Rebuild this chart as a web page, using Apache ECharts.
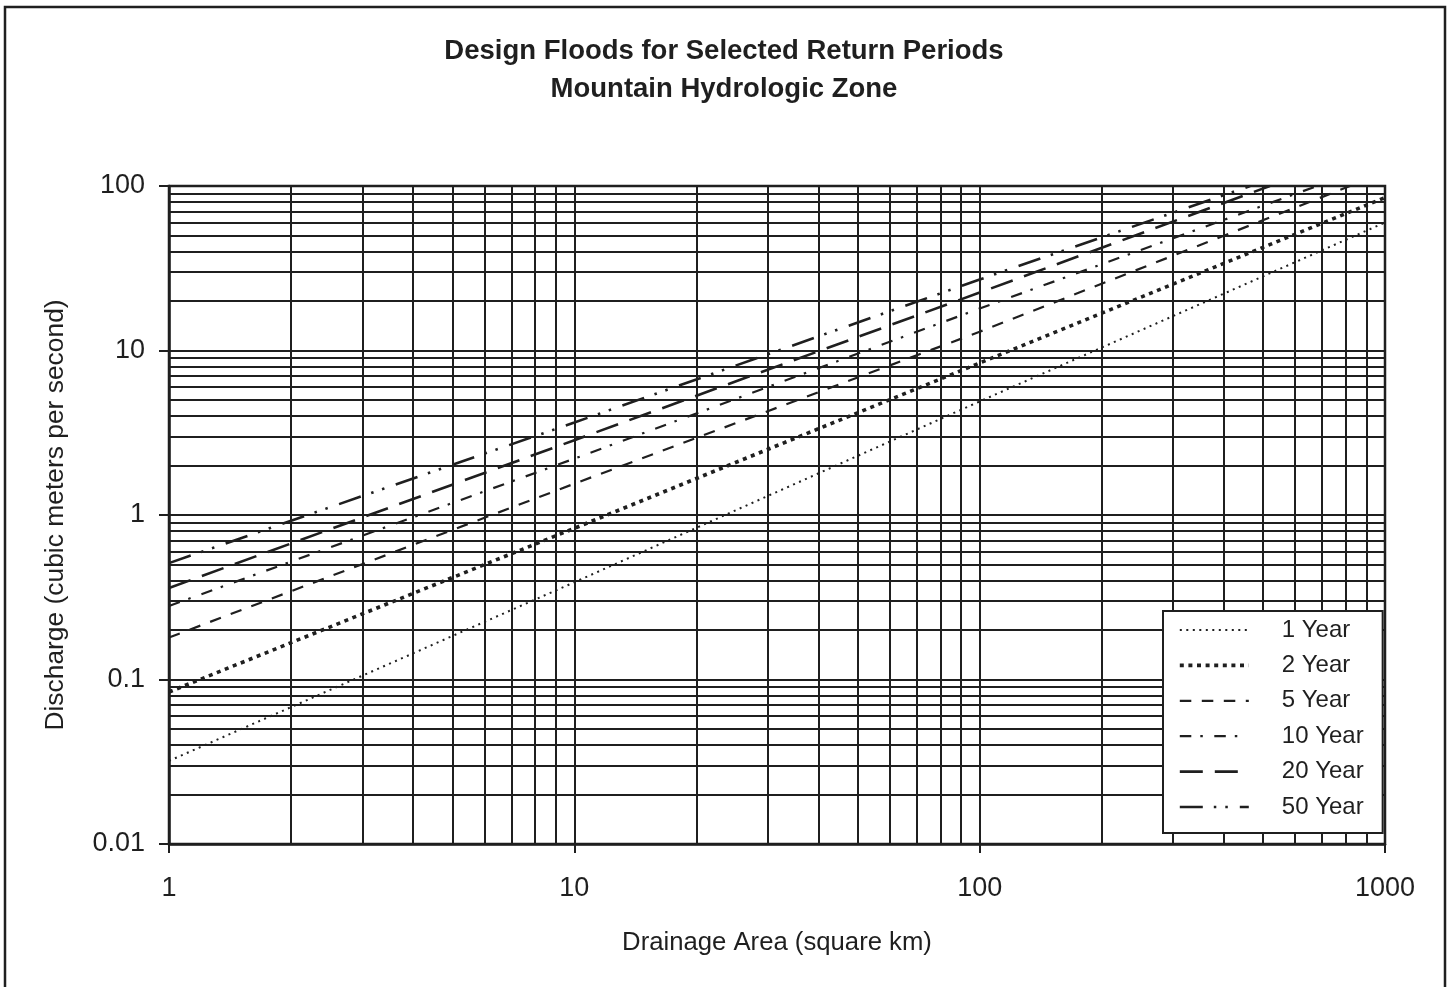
<!DOCTYPE html>
<html>
<head>
<meta charset="utf-8">
<script src="https://cdn.jsdelivr.net/npm/echarts@6/dist/echarts.min.js"></script>
<style>
html,body{margin:0;padding:0;background:#fff;}
#chart{width:1448px;height:987px;}
</style>
</head>
<body>
<div id="chart"></div>
<script>
// ---- data ----
const titleText = 'Design Floods for Selected Return Periods\nMountain Hydrologic Zone';
const xAxisTitle = 'Drainage Area (square km)';
const yAxisTitle = 'Discharge (cubic meters per second)';
const seriesNames = ['1 Year', '2 Year', '5 Year', '10 Year', '20 Year', '50 Year'];

// [drainage area (km²), discharge (m³/s)]
const year1  = [[1, 0.032], [10, 0.39], [100, 4.9], [1000, 60]];
const year2  = [[1, 0.084], [10, 0.83], [100, 8.4], [1000, 85]];
const year5  = [[1, 0.18],  [10, 1.55], [100, 13],  [820, 100]];
const year10 = [[1, 0.28],  [10, 2.2],  [100, 18],  [680, 100]];
const year20 = [[1, 0.36],  [10, 2.85], [100, 22.5],[520, 100]];
const year50 = [[1, 0.51],  [10, 3.65], [100, 27],  [465, 100]];

// log-paper minor grid values
const xMinorGrid = [2,3,4,5,6,7,8,9, 20,30,40,50,60,70,80,90, 200,300,400,500,600,700,800,900];
const yMinorGrid = [0.02,0.03,0.04,0.05,0.06,0.07,0.08,0.09,
                    0.2,0.3,0.4,0.5,0.6,0.7,0.8,0.9,
                    2,3,4,5,6,7,8,9,
                    20,30,40,50,60,70,80,90];

// ---- styling ----
const INK = '#1f1f1f';
const FONT = '"Liberation Sans", Arial, sans-serif';
const dashStyles = [
  { width: 2,   type: [2, 4.5] },
  { width: 3.6, type: [4, 4.6] },
  { width: 2.2, type: [11.5, 10.5] },
  { width: 2.2, type: [11.5, 9, 2.5, 11.5] },
  { width: 2.6, type: [23, 12] },
  { width: 2.6, type: [23, 11, 2.5, 9, 2.5, 12] }
];
const allData = [year1, year2, year5, year10, year20, year50];

const series = allData.map((d, i) => ({
  name: seriesNames[i],
  type: 'line',
  data: d,
  symbol: 'none',
  smooth: false,
  clip: true,
  z: 5,
  lineStyle: { color: INK, width: dashStyles[i].width, type: dashStyles[i].type, cap: 'butt' },
  itemStyle: { color: INK },
  emphasis: { disabled: true }
}));

// minor log grid as mark lines on the first series
series[0].markLine = {
  silent: true,
  symbol: 'none',
  animation: false,
  label: { show: false },
  emphasis: { disabled: true },
  lineStyle: { type: 'solid', color: INK, width: 2 },
  z: 1,
  data: xMinorGrid.map(v => ({ xAxis: v })).concat(yMinorGrid.map(v => ({ yAxis: v })))
};

const fmt = v => String(parseFloat(Number(v).toPrecision(4)));

const chart = echarts.init(document.getElementById('chart'), null, { renderer: 'canvas' });
chart.setOption({
  animation: false,
  backgroundColor: '#ffffff',
  textStyle: { fontFamily: FONT, color: INK },
  title: {
    text: titleText,
    left: 'center',
    top: 27,
    textStyle: { fontFamily: FONT, fontSize: 27.5, fontWeight: 'bold', color: INK, lineHeight: 38 }
  },
  graphic: [{
    type: 'rect',
    silent: true,
    z: 100,
    shape: { x: 5, y: 7, width: 1440, height: 1000 },
    style: { fill: 'none', stroke: INK, lineWidth: 2.5 }
  }],
  grid: {
    left: 169, top: 186, right: 63, bottom: 143,
    show: true, borderColor: INK, borderWidth: 2.5,
    containLabel: false, outerBoundsMode: 'none'
  },
  legend: {
    orient: 'vertical',
    left: 1163, top: 611,
    padding: [7, 19, 14, 15],
    itemWidth: 69, itemHeight: 14, itemGap: 11.4,
    backgroundColor: '#ffffff',
    borderColor: INK, borderWidth: 2,
    selectedMode: false,
    itemStyle: { opacity: 0, color: 'rgba(0,0,0,0)', borderWidth: 0 },
    lineStyle: { width: 'inherit', type: 'inherit' },
    textStyle: { fontFamily: FONT, fontSize: 24, color: INK, padding: [0, 0, 0, 28] },
    data: seriesNames,
    z: 20
  },
  xAxis: {
    type: 'log', logBase: 10, min: 1, max: 1000,
    name: xAxisTitle, nameLocation: 'middle', nameGap: 86,
    nameTextStyle: { fontFamily: FONT, fontSize: 25.7, color: INK },
    axisLine: { show: true, lineStyle: { color: INK, width: 2.5 } },
    axisTick: { show: true, inside: false, length: 9, lineStyle: { color: INK, width: 2 } },
    axisLabel: { fontFamily: FONT, fontSize: 27, color: INK, margin: 31, formatter: fmt },
    splitLine: { show: true, lineStyle: { color: INK, width: 2, type: 'solid' } },
    minorTick: { show: false }, minorSplitLine: { show: false }
  },
  yAxis: {
    type: 'log', logBase: 10, min: 0.01, max: 100,
    name: yAxisTitle, nameLocation: 'middle', nameGap: 100,
    nameTextStyle: { fontFamily: FONT, fontSize: 26.4, color: INK },
    axisLine: { show: true, lineStyle: { color: INK, width: 2.5 } },
    axisTick: { show: true, inside: false, length: 10, lineStyle: { color: INK, width: 2 } },
    axisLabel: { fontFamily: FONT, fontSize: 27, color: INK, margin: 24, formatter: fmt },
    splitLine: { show: true, lineStyle: { color: INK, width: 2, type: 'solid' } },
    minorTick: { show: false }, minorSplitLine: { show: false }
  },
  series: series
});
</script>
</body>
</html>
